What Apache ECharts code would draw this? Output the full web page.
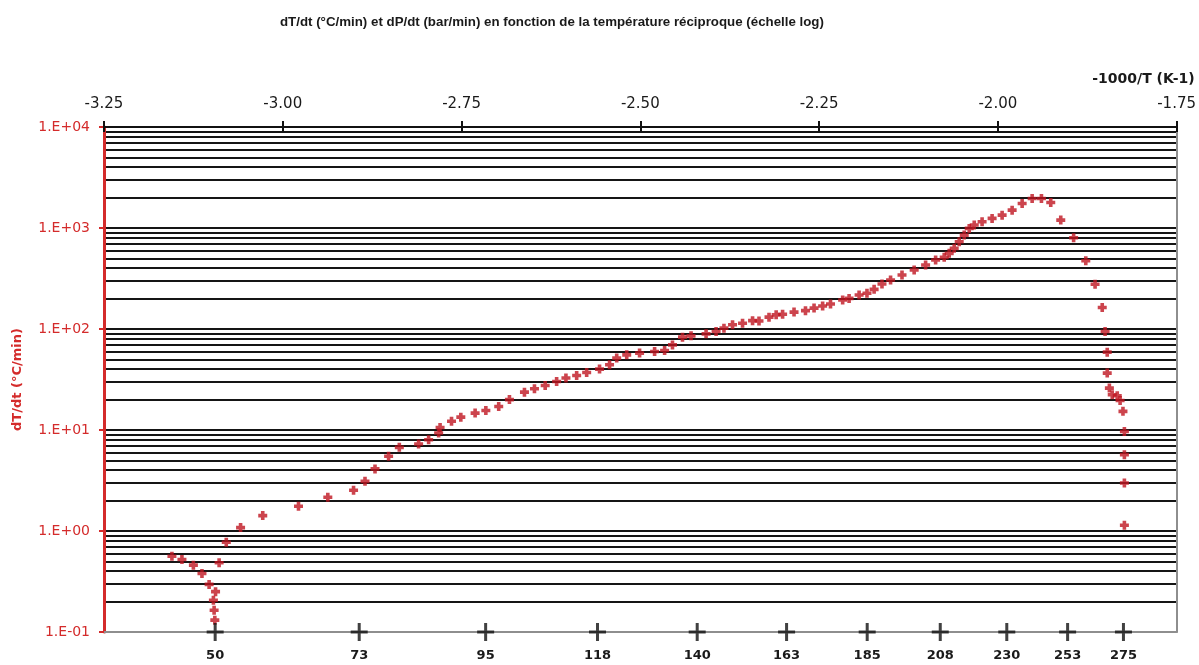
<!DOCTYPE html>
<html>
<head>
<meta charset="utf-8">
<title>dT/dt en fonction de -1000/T</title>
<script src="https://cdn.jsdelivr.net/npm/echarts@6/dist/echarts.min.js"></script>
<style>
  html, body { margin: 0; padding: 0; background: #fff; }
  #chart { width: 1199px; height: 665px; }
</style>
</head>
<body>
<div id="chart"></div>
<script>
// -1000/T (K-1) of each point
const invT = [
  -3.155, -3.141, -3.125, -3.113, -3.103, -3.094, -3.097, -3.096, -3.095, -3.089,
  -3.079, -3.059, -3.028, -2.978, -2.937, -2.901, -2.885, -2.871, -2.852, -2.837,
  -2.810, -2.796, -2.782, -2.780, -2.764, -2.751, -2.731, -2.716, -2.698, -2.683,
  -2.662, -2.648, -2.633, -2.617, -2.604, -2.589, -2.575, -2.557, -2.543, -2.533,
  -2.519, -2.501, -2.480, -2.466, -2.455, -2.441, -2.429, -2.408, -2.394, -2.383,
  -2.371, -2.357, -2.343, -2.334, -2.320, -2.310, -2.301, -2.285, -2.269, -2.257,
  -2.245, -2.234, -2.217, -2.208, -2.194, -2.183, -2.173, -2.162, -2.150, -2.134,
  -2.117, -2.101, -2.087, -2.075, -2.068, -2.061, -2.054, -2.047, -2.040, -2.033,
  -2.022, -2.008, -1.994, -1.980, -1.966, -1.952, -1.939, -1.926, -1.912, -1.894,
  -1.877, -1.864, -1.854, -1.850, -1.847, -1.847, -1.844, -1.840, -1.833, -1.829,
  -1.825, -1.823, -1.823, -1.823, -1.823
];
// dT/dt (°C/min)
const dTdt = [
  0.563, 0.523, 0.459, 0.380, 0.296, 0.251, 0.206, 0.164, 0.131, 0.485,
  0.775, 1.08, 1.42, 1.76, 2.16, 2.53, 3.10, 4.12, 5.49, 6.73,
  7.27, 8.02, 9.33, 10.6, 12.2, 13.4, 14.7, 15.6, 17.1, 20.0,
  23.7, 25.6, 27.6, 30.2, 32.7, 34.6, 37.1, 40.1, 44.2, 51.5,
  55.5, 57.7, 59.8, 61.2, 69.6, 83.0, 85.5, 89.5, 94.3, 102,
  110, 114, 121, 120, 131, 138, 140, 147, 152, 161,
  169, 177, 194, 201, 217, 226, 247, 279, 306, 342,
  384, 430, 482, 512, 561, 629, 731, 851, 991, 1069,
  1152, 1244, 1341, 1503, 1750, 1961, 1961, 1790, 1197, 800,
  474, 277, 163, 94.3, 59.0, 36.6, 26.0, 22.3, 21.8, 19.6,
  15.3, 9.68, 5.70, 2.99, 1.14
];
// bottom scale: temperature in °C and the printed labels
const tempTicks = [50, 72.5, 95, 117.5, 140, 162.5, 185, 207.5, 230, 252.5, 275];
const tempLabels = ['50', '73', '95', '118', '140', '163', '185', '208', '230', '253', '275'];
// left scale labels, one per decade from 0.1 to 10000
const yTickLabels = ['1.E-01', '1.E+00', '1.E+01', '1.E+02', '1.E+03', '1.E+04'];

const RED = '#d42b2b';
const FONT = 'DejaVu Sans';
const tempPos = tempTicks.map(t => -1000 / (t + 273.15));

// horizontal grid lines: 1..9 in every decade (log10 positions)
const gridLogs = [];
for (let d = -1; d < 4; d++) {
  for (let m = 1; m < 10; m++) gridLogs.push(d + Math.log10(m));
}
gridLogs.push(4);

const plusPath = 'path://M7,0H10V7.5H17V10.5H10V18H7V10.5H0V7.5H7Z';

const chart = echarts.init(document.getElementById('chart'));
chart.setOption({
  backgroundColor: '#fff',
  animation: false,
  title: {
    text: 'dT/dt (°C/min) et dP/dt (bar/min) en fonction de la température réciproque (échelle log)',
    left: 275,
    top: 11,
    textStyle: { fontFamily: 'Liberation Sans', fontSize: 13.3, fontWeight: 'bold', color: '#1a1a1a' }
  },
  grid: { left: 104, right: 22, top: 127, bottom: 33 },
  xAxis: [
    {
      type: 'value', position: 'top', min: -3.25, max: -1.75, interval: 0.25,
      name: '-1000/T (K-1)', nameLocation: 'end', nameGap: 18,
      nameTextStyle: {
        fontFamily: FONT, fontSize: 14, fontWeight: 'bold', color: '#1a1a1a',
        align: 'right', verticalAlign: 'bottom', padding: [0, 0, 41, 0]
      },
      axisLine: { show: true, onZero: false, lineStyle: { color: '#111', width: 2 } },
      axisTick: { show: true, length: 6, lineStyle: { color: '#111', width: 2 } },
      axisLabel: {
        margin: 15, fontFamily: FONT, fontSize: 15, color: '#1a1a1a',
        formatter: v => v.toFixed(2)
      },
      splitLine: { show: false }
    },
    {
      type: 'value', position: 'top', min: -3.25, max: -1.75, interval: 0.25,
      axisLine: { show: false, onZero: false },
      axisTick: { show: true, inside: true, length: 5, lineStyle: { color: '#111', width: 2 } },
      axisLabel: { show: false },
      splitLine: { show: false }
    },
    {
      type: 'value', position: 'bottom', min: -3.25, max: -1.75,
      axisLine: { show: true, onZero: false, lineStyle: { color: '#8e8e8e', width: 2 } },
      axisTick: { show: false },
      axisLabel: {
        customValues: tempPos,
        margin: 17, fontFamily: FONT, fontSize: 13, fontWeight: 'bold', color: '#1a1a1a',
        formatter: v => {
          let best = 0;
          tempPos.forEach((p, i) => { if (Math.abs(p - v) < Math.abs(tempPos[best] - v)) best = i; });
          return tempLabels[best];
        }
      },
      splitLine: { show: false }
    }
  ],
  yAxis: [
    {
      type: 'log', logBase: 10, min: 0.1, max: 10000, position: 'left',
      name: 'dT/dt (°C/min)', nameLocation: 'middle', nameGap: 80,
      nameTextStyle: { fontFamily: FONT, fontSize: 13, fontWeight: 'bold', color: RED },
      axisLine: { show: true, onZero: false, lineStyle: { color: RED, width: 3 } },
      axisTick: { show: true, length: 5, lineStyle: { color: RED, width: 2 } },
      axisLabel: {
        margin: 14, fontFamily: FONT, fontSize: 14, color: RED,
        formatter: v => yTickLabels[Math.round(Math.log10(v)) + 1]
      },
      splitLine: { show: false }
    },
    {
      type: 'value', position: 'right', min: -1, max: 4,
      axisLine: { show: true, onZero: false, lineStyle: { color: '#8e8e8e', width: 2 } },
      axisTick: { show: false, customValues: gridLogs },
      axisLabel: { show: false },
      splitLine: { show: true, lineStyle: { color: '#151515', width: 2 } }
    }
  ],
  series: [
    {
      name: 'dT/dt',
      type: 'scatter',
      xAxisIndex: 0,
      yAxisIndex: 0,
      symbol: 'path://M3,0H7V3H10V7H7V10H3V7H0V3H3Z',
      symbolSize: 9,
      itemStyle: { color: '#bf1521' },
      data: invT.map((x, i) => [x, dTdt[i]])
    },
    {
      name: 'T (°C)',
      type: 'scatter',
      xAxisIndex: 2,
      yAxisIndex: 1,
      silent: true,
      clip: false,
      symbol: plusPath,
      symbolSize: [17, 18],
      itemStyle: { color: '#111' },
      data: tempPos.map(x => [x, -1])
    }
  ]
});
window.onresize = function () {
  chart.resize();
};
</script>
</body>
</html>
